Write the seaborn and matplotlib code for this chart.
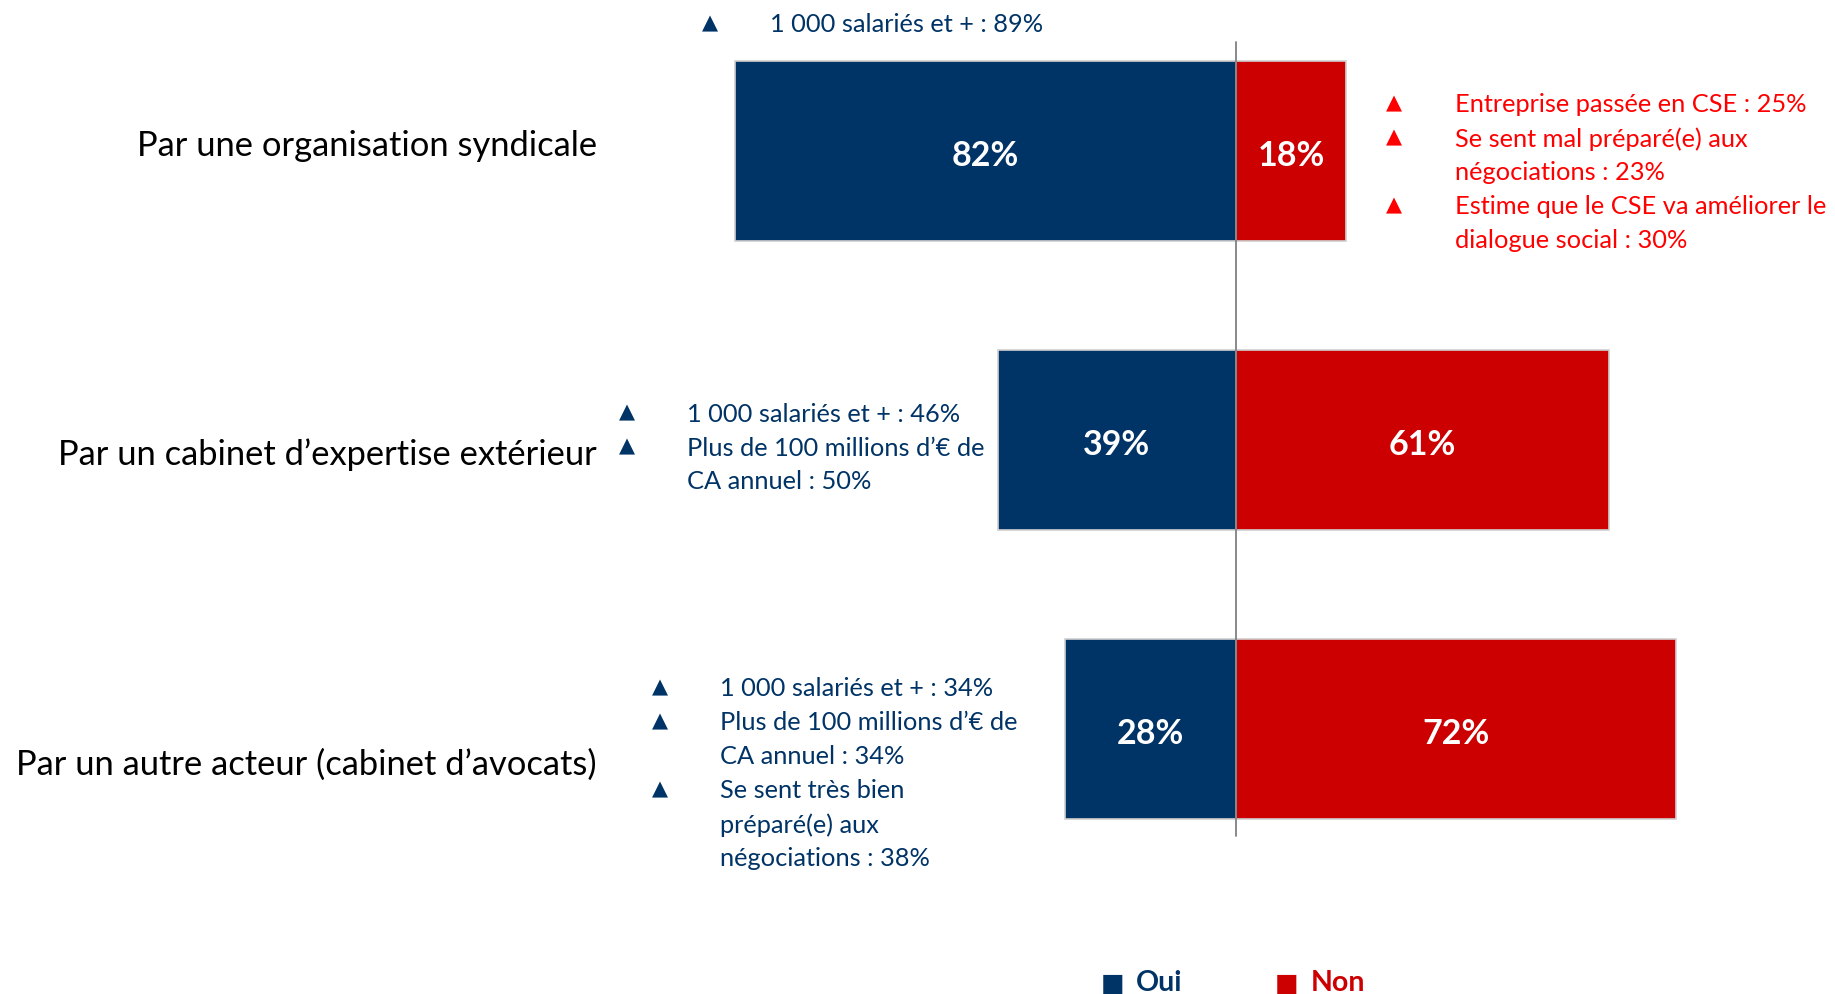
import matplotlib
matplotlib.use("Agg")
import matplotlib.pyplot as plt
import seaborn as sns
import pandas as pd

# ------------------ data ------------------ #
categories = ["Par une organisation syndicale",
              "Par un cabinet d\u2019expertise ext\u00e9rieur",
              "Par un autre acteur (cabinet d\u2019avocats)"]
oui = [82, 39, 28]
non = [18, 61, 72]

# sub-group highlights (text lines, True = line starts with a triangle)
notes_oui = [
    [("1 000 salari\u00e9s et + : 89%", True)],
    [("1 000 salari\u00e9s et + : 46%", True),
     ("Plus de 100 millions d\u2019\u20ac de", True),
     ("CA annuel : 50%", False)],
    [("1 000 salari\u00e9s et + : 34%", True),
     ("Plus de 100 millions d\u2019\u20ac de", True),
     ("CA annuel : 34%", False),
     ("Se sent tr\u00e8s bien", True),
     ("pr\u00e9par\u00e9(e) aux", False),
     ("n\u00e9gociations : 38%", False)],
]
notes_non = [
    ("Entreprise pass\u00e9e en CSE : 25%", True),
    ("Se sent mal pr\u00e9par\u00e9(e) aux", True),
    ("n\u00e9gociations : 23%", False),
    ("Estime que le CSE va am\u00e9liorer le", True),
    ("dialogue social : 30%", False),
]

BLUE = "#003366"
RED = "#CC0000"
RED_TXT = "#FF0000"

sns.set_style("white")
plt.rcParams['font.family'] = ['Lato', 'DejaVu Sans']

W, H = 1835, 995
fig = plt.figure(figsize=(W / 100, H / 100), dpi=100)
ax = fig.add_axes([0, 0, 1, 1])

df = pd.DataFrame({"cat": categories, "oui": [-v for v in oui], "non": non})
sns.barplot(data=df, x="oui", y="cat", color=BLUE, width=0.62, orient="h",
            edgecolor="#D0D0D0", linewidth=1.2, ax=ax, saturation=1)
sns.barplot(data=df, x="non", y="cat", color=RED, width=0.62, orient="h",
            edgecolor="#D0D0D0", linewidth=1.2, ax=ax, saturation=1)
ax.axis("off")

# map: 0% at x=1236 px, 6.11 px per point; category centres 289 px apart
PXU = 6.11
X0 = 1236
ax.set_xlim(-X0 / PXU, (W - X0) / PXU)
Y0, YU = 152, 289
ax.set_ylim((H - Y0) / YU, -Y0 / YU)

# centre line
ax.plot([0, 0], [(43 - Y0) / YU, (837 - Y0) / YU], color="#808080", lw=1.3)

# value labels (nudged slightly down to sit on the optical centre)
dy = 4 / YU
for i, (o, n) in enumerate(zip(oui, non)):
    ax.text(-o / 2, i + dy, f"{o}%", color="white", ha="center", va="center",
            fontsize=24.5, fontweight="bold")
    ax.text(n / 2, i + dy, f"{n}%", color="white", ha="center", va="center",
            fontsize=24.5, fontweight="bold")


def fx(px):
    return px / W


def fy(py):
    return 1 - py / H


# category labels
label_y = [146, 455, 765]
for cat, ly in zip(categories, label_y):
    fig.text(fx(597), fy(ly), cat, ha="right", va="center", fontsize=24.8,
             color="black")

LINE = 34


def draw_notes(lines, tri_x, txt_x, y_first, color):
    for k, (txt, tri) in enumerate(lines):
        y = fy(y_first + k * LINE)
        if tri:
            fig.text(fx(tri_x), fy(y_first + k * LINE - 2), "\u25b2",
                     ha="center", va="center", fontsize=15, color=color,
                     family="DejaVu Sans")
        fig.text(fx(txt_x), y, txt, ha="left", va="center", fontsize=18.3,
                 color=color)


draw_notes(notes_oui[0], 710, 770, 25, BLUE)
draw_notes(notes_oui[1], 627, 687, 414, BLUE)
draw_notes(notes_oui[2], 660, 720, 689, BLUE)
draw_notes(notes_non, 1394, 1455, 105, RED_TXT)

# legend
for sq_x, txt_x, lab, col in [(1113, 1136, "Oui", BLUE), (1287, 1311, "Non", RED)]:
    fig.text(fx(sq_x), fy(984), "\u25a0", ha="center", va="center",
             fontsize=18, color=col, family="DejaVu Sans")
    fig.text(fx(txt_x), fy(983), lab, ha="left", va="center", fontsize=20.5,
             fontweight="bold", color=col)

fig.savefig("out.png", dpi=100)
